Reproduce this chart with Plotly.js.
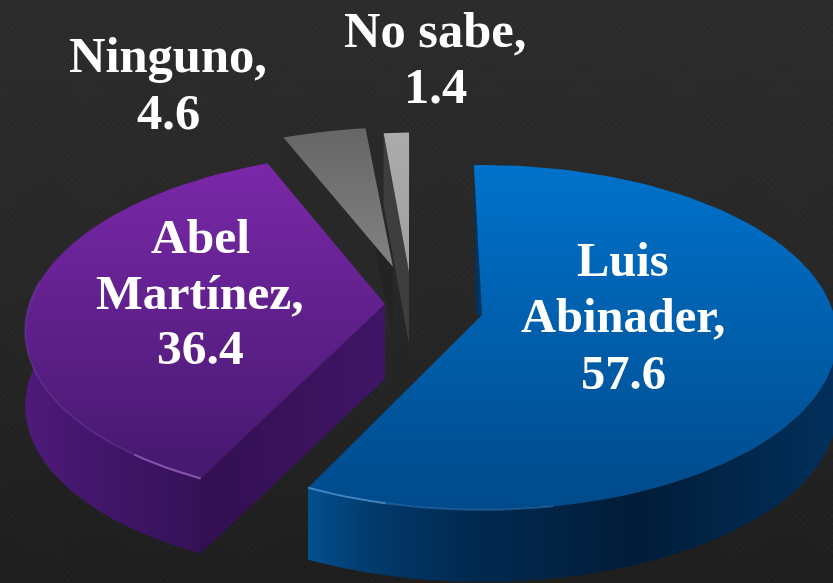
<!DOCTYPE html>
<html><head><meta charset="utf-8">
<script src="https://cdn.plot.ly/plotly-3.0.1.min.js"></script>
<style>
html,body{margin:0;padding:0;width:833px;height:583px;overflow:hidden;
background:
 repeating-linear-gradient(45deg,rgba(255,255,255,.012) 0 1px,rgba(0,0,0,0) 1px 5px),
 repeating-linear-gradient(-45deg,rgba(0,0,0,.05) 0 1px,rgba(0,0,0,0) 1px 5px),
 linear-gradient(180deg,#2c2c2d 0%,#272727 50%,#1e1e1e 100%);}
#chart{width:833px;height:583px;}
</style></head><body><div id="chart"></div>
<script>
// ---- data ----
const categories = ['Luis Abinader','Abel Martínez','Ninguno','No sabe'];
const values = [57.6, 36.4, 4.6, 1.4];
const labelNames = [['Luis','Abinader,'],['Abel','Martínez,'],['Ninguno,'],['No sabe,']];

// ---- drawing parameters (scene, not data) ----
const startAngle = -1.5, R = 352, tilt = 0.4815, persp = 0.13;
const apex   = [[482,315],[385,304],[393,267],[409,272]];   // exploded slice tips
const scale  = [1,1.01,0.93,0.93];
const lean   = [0,-0.05,-0.04,-0.055];
const depth  = [72,75,72,72];
const topCol = [['#0072cb','#004a8a'],['#7a28a8','#45186e'],['#666666','#828282'],['#ababab','#a0a0a0']];
const arcCol = [
  [[0,'#02508f'],[0.12,'#023a6c'],[0.3,'#012a52'],[0.62,'#011c38'],[1,'#02305c']],
  [[0,'#4e1a7a'],[0.4,'#3e1566'],[1,'#2e0f4c']]];
const cutCol = [null,null,'#282828','#3e3e3e'];
const labelPos = [[623,[259,315,372]],[200,[236,292,347]],[168,[55,112]],[435,[30,86]]];
const fontSizes = [48.5,49.5,50.5,50.5];

// ---- slice geometry, from the values ----
const total = values.reduce((a,b)=>a+b,0);
let run = startAngle;
const slices = values.map((v,i)=>{const a0=run; run+=v/total*360; return {a0,a1:run,i};});

function P(i,deg){
  const t=deg*Math.PI/180,u=Math.sin(t),w=-Math.cos(t),s=1/(1-persp*w);
  const dy=R*scale[i]*tilt*w*s;
  return [apex[i][0]+R*scale[i]*u*s+lean[i]*dy, apex[i][1]+dy];
}
function arc(i,a0,a1){const n=Math.max(2,Math.ceil(Math.abs(a1-a0)/2)),o=[];
  for(let k=0;k<=n;k++)o.push(P(i,a0+(a1-a0)*k/n));return o;}
function poly(pts,fill){
  const t={type:'scatter',mode:'lines',x:pts.map(p=>p[0]).concat(pts[0][0]),y:pts.map(p=>p[1]).concat(pts[0][1]),
    fill:'toself',line:{width:0},hoverinfo:'skip',showlegend:false};
  if(typeof fill==='string')t.fillcolor=fill; else t.fillgradient=fill;
  return t;
}
const drop=(pts,d)=>pts.map(p=>[p[0],p[1]+d]);
function rim(pts,color,w){return {type:'scatter',mode:'lines',x:pts.map(p=>p[0]),y:pts.map(p=>p[1]),
  line:{color,width:w},hoverinfo:'skip',showlegend:false};}
const traces=[];
[2,3,1,0].forEach(i=>{
  const s=slices[i],A=apex[i],d=depth[i],out=arc(i,s.a0,s.a1);
  const first=out[0],last=out[out.length-1];
  const quad=(E)=>[A,E,[E[0],E[1]+d],[A[0],A[1]+d]];
  if(i===0){
    traces.push(poly(out.filter(p=>p[1]>340).concat(drop(out.filter(p=>p[1]>340),d).reverse()),{type:'horizontal',colorscale:arcCol[0]}));
    traces.push(poly([[A[0]-6,A[1]],first,A],'#01345f'));
  }
  if(i===1){
    traces.push(poly(out.concat(drop(out,d).reverse()),{type:'horizontal',colorscale:arcCol[1]}));
    traces.push(poly(quad(first),{type:'horizontal',colorscale:[[0,'#330f52'],[1,'#3f1566']]}));
  }
  if(i===2){
    traces.push(poly(quad(first),cutCol[2]));
    traces.push(poly(quad(last),'#232323'));
  }
  if(i===3){
    traces.push(poly(quad(first),cutCol[3]));
  }
  // top surface (colorscale runs bottom to top)
  traces.push(poly([A].concat(out),{type:'vertical',colorscale:[[0,topCol[i][1]],[1,topCol[i][0]]]}));
  // rim highlight along the front edge
  if(i===0){
    traces.push(rim(arc(i,s.a1,s.a1-36),'rgba(70,140,210,0.35)',2));
    traces.push(rim(arc(i,s.a1,s.a1-12),'rgba(120,180,235,0.45)',2));
  }
  if(i===1){
    traces.push(rim(arc(i,s.a0,s.a0+72),'rgba(130,70,180,0.35)',2));
    traces.push(rim(arc(i,s.a0,s.a0+12),'rgba(190,140,225,0.45)',2));
  }
});

// ---- labels, one annotation per line to keep the tight leading ----
const annotations=[];
categories.forEach((c,i)=>{
  const lines=labelNames[i].concat(values[i].toFixed(1));
  lines.forEach((t,k)=>annotations.push({xref:'x',yref:'y',x:labelPos[i][0],y:labelPos[i][1][k],
    text:'<b>'+t+'</b>',showarrow:false,xanchor:'center',yanchor:'middle',
    font:{family:'"Liberation Serif",serif',size:fontSizes[i],color:'#ffffff'}}));
});

Plotly.newPlot('chart',traces,{
  width:833,height:583,margin:{l:0,r:0,t:0,b:0},
  paper_bgcolor:'rgba(0,0,0,0)',plot_bgcolor:'rgba(0,0,0,0)',
  xaxis:{range:[0,833],visible:false,fixedrange:true},
  yaxis:{range:[583,0],visible:false,fixedrange:true},
  annotations,showlegend:false
},{displayModeBar:false,staticPlot:true});
</script></body></html>
